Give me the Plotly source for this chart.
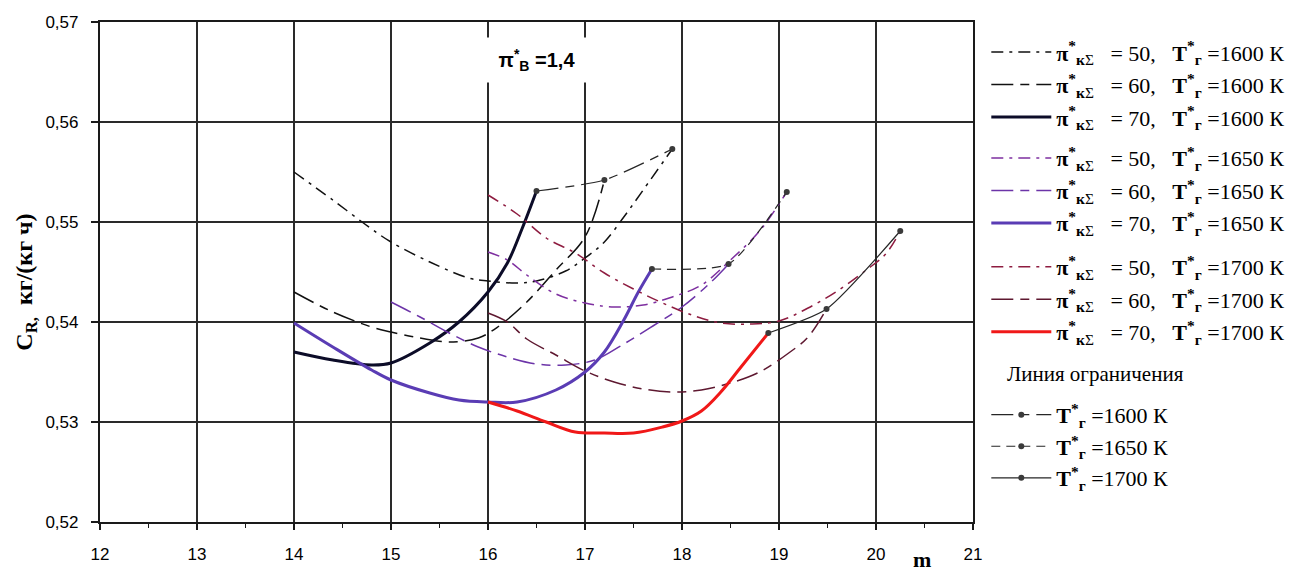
import plotly.graph_objects as go

# ---------------- data ----------------
m_50_1600 = [14.0, 14.4, 14.8, 15.0, 15.4, 15.8, 16.0, 16.3, 16.5, 16.8, 17.0, 17.2, 17.4, 17.6, 17.9]
cr_50_1600 = [0.5550, 0.5522, 0.5493, 0.5480, 0.5460, 0.5444, 0.5441, 0.5439, 0.5441, 0.5451, 0.5464, 0.5480, 0.5505, 0.5532, 0.5573]

m_60_1600 = [14.0, 14.4, 14.8, 15.0, 15.3, 15.6, 15.9, 16.1, 16.4, 16.7, 17.0, 17.2]
cr_60_1600 = [0.5430, 0.5410, 0.5395, 0.5390, 0.5384, 0.5380, 0.5384, 0.5395, 0.5420, 0.5452, 0.5485, 0.5542]

m_70_1600 = [14.0, 14.4, 14.8, 15.0, 15.4, 15.7, 16.0, 16.2, 16.35, 16.5]
cr_70_1600 = [0.5370, 0.5362, 0.5357, 0.5359, 0.5379, 0.5400, 0.5430, 0.5459, 0.5493, 0.5531]

m_50_1650 = [16.0, 16.2, 16.4, 16.7, 17.0, 17.3, 17.6, 17.9, 18.2, 18.5, 18.8, 19.08]
cr_50_1650 = [0.5470, 0.5462, 0.5447, 0.5428, 0.5419, 0.5415, 0.5417, 0.5425, 0.5437, 0.5462, 0.5491, 0.5530]

m_60_1650 = [15.0, 15.3, 15.6, 15.9, 16.2, 16.5, 16.8, 17.1, 17.4, 17.7, 18.0, 18.3, 18.48]
cr_60_1650 = [0.5420, 0.5405, 0.5389, 0.5375, 0.5365, 0.5358, 0.5357, 0.5362, 0.5378, 0.5396, 0.5415, 0.5440, 0.5458]

m_70_1650 = [14.0, 14.4, 14.8, 15.0, 15.4, 15.7, 16.0, 16.3, 16.7, 17.0, 17.2, 17.4, 17.55, 17.69]
cr_70_1650 = [0.5399, 0.5375, 0.5352, 0.5342, 0.5329, 0.5322, 0.5320, 0.5320, 0.5332, 0.5350, 0.5370, 0.5402, 0.5430, 0.5453]

m_50_1700 = [16.0, 16.3, 16.6, 16.9, 17.2, 17.5, 17.8, 18.1, 18.4, 18.7, 19.0, 19.3, 19.6, 19.9, 20.1, 20.25]
cr_50_1700 = [0.5527, 0.5508, 0.5484, 0.5469, 0.5449, 0.5433, 0.5419, 0.5407, 0.5399, 0.5398, 0.5401, 0.5414, 0.5431, 0.5452, 0.5468, 0.5491]

m_60_1700 = [16.0, 16.2, 16.4, 16.7, 17.0, 17.3, 17.6, 17.9, 18.2, 18.5, 18.8, 19.1, 19.3, 19.49]
cr_60_1700 = [0.5409, 0.5400, 0.5383, 0.5367, 0.5351, 0.5340, 0.5333, 0.5330, 0.5332, 0.5339, 0.5350, 0.5369, 0.5385, 0.5413]

m_70_1700 = [16.0, 16.3, 16.6, 16.9, 17.2, 17.5, 17.8, 18.0, 18.2, 18.4, 18.6, 18.89]
cr_70_1700 = [0.5320, 0.5311, 0.5300, 0.5290, 0.5289, 0.5289, 0.5295, 0.5301, 0.5311, 0.5330, 0.5354, 0.5389]

m_lim_1600 = [16.50, 17.20, 17.90]
cr_lim_1600 = [0.5531, 0.5542, 0.5573]
m_lim_1650 = [17.69, 18.48, 19.08]
cr_lim_1650 = [0.5453, 0.5458, 0.5530]
m_lim_1700 = [18.89, 19.49, 20.25]
cr_lim_1700 = [0.5389, 0.5413, 0.5491]

pi_values = [50, 60, 70]
t_values = [1600, 1650, 1700]

x_ticks = [12, 13, 14, 15, 16, 17, 18, 19, 20, 21]
y_ticks = [0.52, 0.53, 0.54, 0.55, 0.56, 0.57]

curves = {
    (50, 1600): (m_50_1600, cr_50_1600), (60, 1600): (m_60_1600, cr_60_1600), (70, 1600): (m_70_1600, cr_70_1600),
    (50, 1650): (m_50_1650, cr_50_1650), (60, 1650): (m_60_1650, cr_60_1650), (70, 1650): (m_70_1650, cr_70_1650),
    (50, 1700): (m_50_1700, cr_50_1700), (60, 1700): (m_60_1700, cr_60_1700), (70, 1700): (m_70_1700, cr_70_1700),
}
limits = {1600: (m_lim_1600, cr_lim_1600), 1650: (m_lim_1650, cr_lim_1650), 1700: (m_lim_1700, cr_lim_1700)}

# ---------------- styles ----------------
colors = {
    (50, 1600): "#111111", (60, 1600): "#111111", (70, 1600): "#0c0c28",
    (50, 1650): "#7e2fa0", (60, 1650): "#6c34a8", (70, 1650): "#5a3cb4",
    (50, 1700): "#8e1c40", (60, 1700): "#5e1830", (70, 1700): "#f01818",
}
dashes = {50: "12px,6px,3px,6px", 60: "22px,7px,9px,7px", 70: "solid"}
widths = {50: 1.5, 60: 1.5, 70: 3.0}
lim_dash = {1600: "22px,7px,9px,7px", 1650: "9px,6px", 1700: "solid"}
legend_ids = {1600: "legend", 1650: "legend2", 1700: "legend3"}

SERIF = "Liberation Serif, Times New Roman, serif"
SANS = "Liberation Sans, Arial, sans-serif"
NB = "\u00a0"


def pi_name(p, t):
    return ("<b>π</b><sup><b>*</b></sup><sub><b>к</b>Σ</sub>" + NB + NB + " = %d," + NB + NB + NB +
            "<b>T</b><sup><b>*</b></sup><sub><b>г</b></sub> =%d К") % (p, t)


fig = go.Figure()
for t in t_values:
    for p in pi_values:
        xs, ys = curves[(p, t)]
        fig.add_trace(go.Scatter(
            x=xs, y=ys, mode="lines", name=pi_name(p, t),
            line=dict(color=colors[(p, t)], width=widths[p], dash=dashes[p], shape="spline", smoothing=1.0),
            legend=legend_ids[t], legendgroup="g%d_%d" % (p, t),
        ))

for t in t_values:
    xs, ys = limits[t]
    fig.add_trace(go.Scatter(
        x=xs, y=ys, mode="lines+markers",
        name="<b>T</b><sup><b>*</b></sup><sub><b>г</b></sub> =%d К" % t,
        line=dict(color="#262626", width=1.2, dash=lim_dash[t], shape="spline", smoothing=0.6),
        marker=dict(color="#3a3a3a", size=6, symbol="circle"),
        legend="legend4", legendgroup="lim%d" % t,
    ))

# ---------------- layout ----------------
# the page has an 8px body margin; plot area wanted at page px x 100..972.7, y 22..522.5
W, H = 1302, 575
L, T = 92, 14
R, B = 337.3, 60.5
PX0, PY1 = 100.0, 522.5
pw, ph = W - L - R, H - T - B


def px_x(px):
    return (px - PX0) / pw


def px_y(py):
    return (PY1 - py) / ph


LEG_FONT = 22
item_h = LEG_FONT * 1.3 + 3
first_off = 5 + item_h / 2

leg_common = dict(font=dict(family=SERIF, size=LEG_FONT, color="black"), bgcolor="rgba(0,0,0,0)",
                  xanchor="left", yanchor="top", x=px_x(986), itemwidth=60,
                  traceorder="grouped", borderwidth=0)

fig.update_layout(
    width=W, height=H,
    margin=dict(l=L, r=R, t=T, b=B, autoexpand=False),
    paper_bgcolor="white", plot_bgcolor="white",
    separators=", ",
    font=dict(family=SANS, size=17, color="black"),
    legend=dict(**leg_common, y=px_y(52 - first_off), tracegroupgap=max(32.5 - item_h, 0)),
    legend2=dict(**leg_common, y=px_y(158 - first_off), tracegroupgap=max(32.5 - item_h, 0)),
    legend3=dict(**leg_common, y=px_y(267 - first_off), tracegroupgap=max(32.5 - item_h, 0)),
    legend4=dict(**leg_common, y=px_y(415 - first_off), tracegroupgap=0),
    xaxis=dict(range=[12, 21], tickvals=x_ticks, showgrid=True, gridcolor="#2a2a2a", gridwidth=1.6,
               showline=True, linecolor="#1a1a1a", linewidth=2.2, mirror=True,
               ticks="outside", ticklen=6, tickwidth=1.6, tickcolor="#1a1a1a",
               minor=dict(dtick=0.5, ticks="outside", ticklen=4, tickwidth=1.4, tickcolor="#1a1a1a", showgrid=False),
               tickfont=dict(family=SANS, size=17, color="black"), ticklabelstandoff=9,
               zeroline=False),
    yaxis=dict(range=[0.52, 0.57], tickvals=y_ticks, tickformat=".2f", showgrid=True, gridcolor="#2a2a2a",
               gridwidth=1.6, showline=True, linecolor="#1a1a1a", linewidth=2.2, mirror=True,
               ticks="outside", ticklen=7, tickwidth=1.6, tickcolor="#1a1a1a",
               tickfont=dict(family=SANS, size=17, color="black"), ticklabelstandoff=9,
               zeroline=False),
    annotations=[
        dict(text="π<sup>*</sup><sub>B</sub> =1,4", x=px_x(537), y=px_y(60), xref="paper", yref="paper",
             showarrow=False, font=dict(family=SANS, size=20, color="black", weight="bold"),
             bgcolor="white", width=114, height=44, borderpad=0, xanchor="center", yanchor="middle"),
        dict(text="C<sub>R,</sub>" + NB + NB + "кг/(кг" + NB + "ч)", x=px_x(26), y=px_y(282),
             xref="paper", yref="paper",
             showarrow=False, textangle=-90, font=dict(family=SERIF, size=24, color="black", weight="bold"),
             xanchor="center", yanchor="middle"),
        dict(text="m", x=px_x(922), y=px_y(575), xref="paper", yref="paper", showarrow=False,
             font=dict(family=SERIF, size=22, color="black", weight="bold"), xanchor="center", yanchor="bottom"),
        dict(text="Линия ограничения", x=px_x(1005), y=px_y(374), xref="paper", yref="paper", showarrow=False,
             font=dict(family=SERIF, size=21, color="black"), xanchor="left", yanchor="middle"),
    ],
)

fig.write_html("out.html")
